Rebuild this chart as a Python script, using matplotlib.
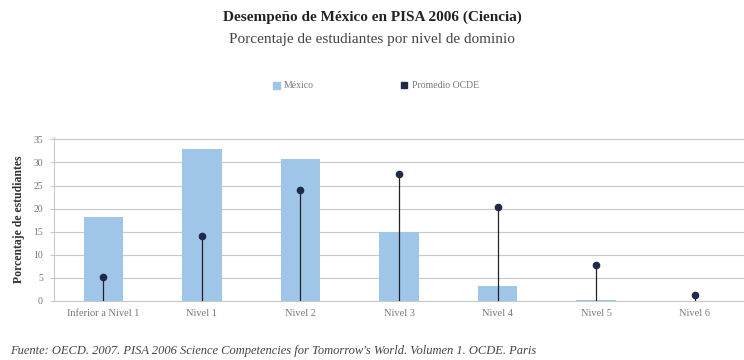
import numpy as np
import matplotlib.pyplot as plt
from matplotlib.patches import Patch
from matplotlib.lines import Line2D

# datos (PISA 2006, Ciencia)
niveles = ['Inferior a Nivel 1', 'Nivel 1', 'Nivel 2', 'Nivel 3', 'Nivel 4', 'Nivel 5', 'Nivel 6']
mexico = [18.2, 32.8, 30.8, 15.0, 3.2, 0.3, 0.0]
ocde = [5.2, 14.1, 24.0, 27.4, 20.3, 7.7, 1.3]
yticks = [0, 5, 10, 15, 20, 25, 30, 35]

plt.rcParams['font.family'] = ['Liberation Serif', 'DejaVu Serif']

fig = plt.figure(figsize=(7.44, 3.6), dpi=100)
ax = fig.add_axes([54 / 744, 1 - 301 / 360, 690 / 744, 164 / 360])

x = np.arange(len(niveles))
ax.bar(x, mexico, width=0.4, color='#9fc5e8', zorder=2)
ax.vlines(x, 0, ocde, color='#222222', linewidth=0.9, zorder=3)
ax.plot(x, ocde, linestyle='none', marker='o', markersize=4.5, color='#1f2a4a', zorder=4)

ax.set_xlim(-0.5, len(niveles) - 0.5)
ax.set_ylim(0, 35.5)
ax.set_yticks(yticks)
ax.set_xticks(x)
ax.set_xticklabels(niveles, fontsize=7.5, color='#777777')
ax.tick_params(axis='y', labelsize=7, colors='#c8c8c8', labelcolor='#777777', length=3, pad=5)
ax.tick_params(axis='x', length=0, pad=6)
ax.yaxis.grid(True, color='#c8c8c8', linewidth=0.8, zorder=0)
for s in ['top', 'right']:
    ax.spines[s].set_visible(False)
ax.spines['left'].set_color('#c8c8c8')
ax.spines['bottom'].set_color('#c8c8c8')
ax.set_ylabel('Porcentaje de estudiantes', fontsize=8.5, fontweight='bold', labelpad=6,
              color='#333333')

fig.text(0.5, 1 - 17 / 360, 'Desempeño de México en PISA 2006 (Ciencia)',
         ha='center', va='center', fontsize=11, fontweight='bold', color='#222222')
fig.text(0.5, 1 - 40 / 360, 'Porcentaje de estudiantes por nivel de dominio',
         ha='center', va='center', fontsize=11, color='#444444')

handles = [Patch(color='#9fc5e8', label='México'),
           Line2D([], [], linestyle='none', marker='s', markersize=5, color='#1f2a4a',
                  label='Promedio OCDE')]
fig.legend(handles=handles, loc='center', bbox_to_anchor=(0.505, 1 - 86 / 360), ncol=2,
           frameon=False, fontsize=7, handlelength=0.7, handleheight=0.7, handletextpad=0.4,
           columnspacing=9, labelcolor='#777777')

fig.text(0.014, 1 - 351 / 360,
         "Fuente: OECD. 2007. PISA 2006 Science Competencies for Tomorrow's World. Volumen 1. OCDE. Paris",
         ha='left', va='center', fontsize=9, style='italic', color='#444444')

fig.savefig('out.png', dpi=100)
